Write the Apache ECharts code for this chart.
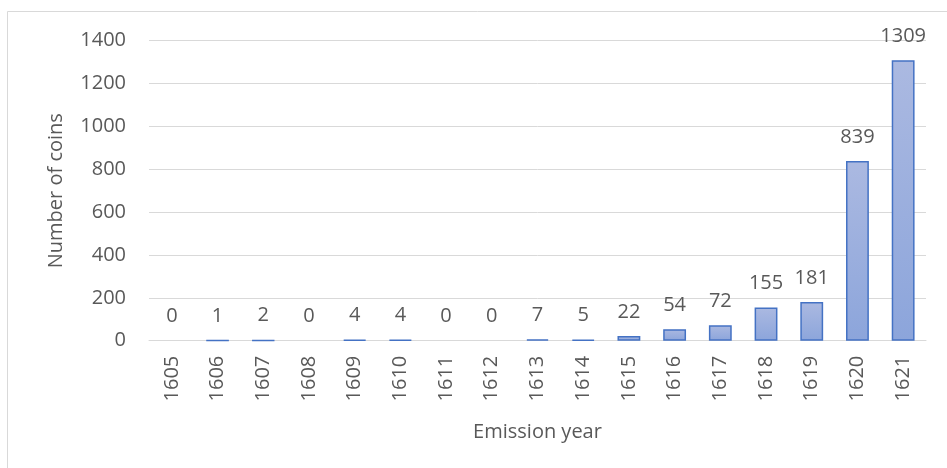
<!DOCTYPE html>
<html>
<head>
<meta charset="utf-8">
<title>Number of coins by emission year</title>
<script src="https://cdn.jsdelivr.net/npm/echarts@6/dist/echarts.min.js"></script>
<style>
  html, body { margin: 0; padding: 0; background: #ffffff; }
  #chart { width: 947px; height: 468px; }
</style>
</head>
<body>
<div id="chart"></div>
<script>
// Emission years on the category axis
const years = ['1605', '1606', '1607', '1608', '1609', '1610', '1611', '1612', '1613',
               '1614', '1615', '1616', '1617', '1618', '1619', '1620', '1621'];

// Number of coins per emission year
const coinCounts = [0, 1, 2, 0, 4, 4, 0, 0, 7, 5, 22, 54, 72, 155, 181, 839, 1309];

// Value axis range
const yMin = 0;
const yMax = 1400;
const yStep = 200;

const textGrey = '#595959';
const lineGrey = '#d9d9d9';
const fontFamily = '"Open Sans", "Noto Sans", sans-serif';

// Zero counts get no outline so that empty years stay blank
const barData = coinCounts.map(v => v === 0 ? { value: v, itemStyle: { borderWidth: 0 } } : v);

const chart = echarts.init(document.getElementById('chart'), null, { renderer: 'canvas' });

chart.setOption({
  backgroundColor: '#ffffff',
  animation: false,
  textStyle: { fontFamily: fontFamily },
  graphic: [{
    type: 'rect',
    shape: { x: 7.5, y: 11.5, width: 1000, height: 600 },
    style: { fill: 'none', stroke: lineGrey, lineWidth: 1 },
    silent: true,
    z: -1
  }],
  grid: { left: 149, right: 21, top: 40.7, bottom: 127.3, containLabel: false },
  xAxis: {
    type: 'category',
    data: years,
    name: 'Emission year',
    nameLocation: 'middle',
    nameGap: 82,
    nameTextStyle: { color: textGrey, fontSize: 20, fontFamily: fontFamily },
    axisLine: { show: true, lineStyle: { color: lineGrey, width: 1 } },
    axisTick: { show: false },
    axisLabel: {
      rotate: 90,
      margin: 15,
      color: textGrey,
      fontSize: 20,
      fontFamily: fontFamily,
      interval: 0
    }
  },
  yAxis: {
    type: 'value',
    min: yMin,
    max: yMax,
    interval: yStep,
    name: 'Number of coins',
    nameLocation: 'middle',
    nameGap: 83,
    nameRotate: 90,
    nameTextStyle: { color: textGrey, fontSize: 20, fontFamily: fontFamily },
    axisLine: { show: false },
    axisTick: { show: false },
    axisLabel: {
      margin: 23,
      color: textGrey,
      fontSize: 20,
      fontFamily: fontFamily,
      formatter: v => String(v)
    },
    splitLine: { show: true, lineStyle: { color: lineGrey, width: 1 } }
  },
  series: [{
    type: 'bar',
    data: barData,
    barCategoryGap: '50%',
    itemStyle: {
      color: new echarts.graphic.LinearGradient(0, 0, 0, 1, [
        { offset: 0, color: '#abb9e1' },
        { offset: 1, color: '#8ca5db' }
      ]),
      borderColor: '#4472c4',
      borderWidth: 1.5
    },
    label: {
      show: true,
      position: 'top',
      distance: 14,
      color: textGrey,
      fontSize: 20,
      fontFamily: fontFamily
    }
  }]
});
</script>
</body>
</html>
